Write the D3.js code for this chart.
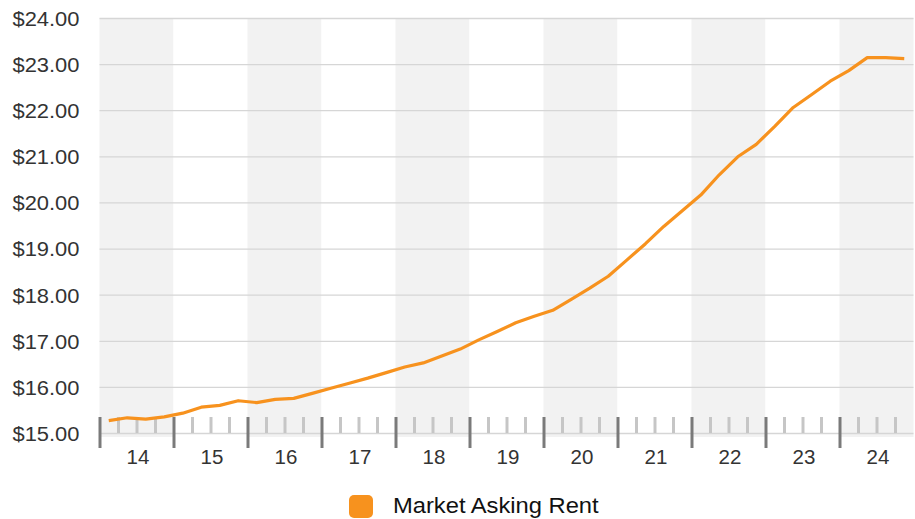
<!DOCTYPE html>
<html>
<head>
<meta charset="utf-8">
<script src="https://cdn.jsdelivr.net/npm/d3@7"></script>
<style>
  html, body { margin: 0; padding: 0; background: #fff; }
  svg { display: block; font-family: "Liberation Sans", Arial, Helvetica, sans-serif; }
</style>
</head>
<body>
<svg id="chart" width="915" height="519"></svg>
<script>
// ---- data ----
const years = ["14", "15", "16", "17", "18", "19", "20", "21", "22", "23", "24"];
const quarters = ["Q1", "Q2", "Q3", "Q4"];
const rent = [
  15.27, 15.33, 15.30, 15.35,
  15.43, 15.56, 15.60, 15.70,
  15.66, 15.73, 15.75, 15.86,
  15.97, 16.08, 16.19, 16.31,
  16.43, 16.52, 16.67, 16.82,
  17.02, 17.20, 17.39, 17.53,
  17.66, 17.90, 18.14, 18.40,
  18.75, 19.10, 19.48, 19.82,
  20.16, 20.60, 20.99, 21.26,
  21.65, 22.06, 22.34, 22.63,
  22.86, 23.14, 23.14, 23.12
];
const yTicks = [15, 16, 17, 18, 19, 20, 21, 22, 23, 24];
const seriesName = "Market Asking Rent";

// ---- layout ----
const mLeft = 99.5, mRight = 913.5, mTop = 18, mBottom = 433;
const svg = d3.select("#chart");

const xYear = d3.scaleBand().domain(years).range([mLeft, mRight]).padding(0);
const xQ = d3.scaleLinear().domain([0, years.length * quarters.length]).range([mLeft, mRight]);
const y = d3.scaleLinear().domain([15, 24]).range([mBottom, mTop]);

// bands
svg.append("g").selectAll("rect")
  .data(years)
  .join("rect")
  .attr("x", d => xYear(d))
  .attr("y", mTop)
  .attr("width", xYear.bandwidth())
  .attr("height", mBottom + 4 - mTop)
  .attr("fill", (d, i) => i % 2 === 0 ? "#f2f2f2" : "#ffffff");

// y axis with gridlines
const yAxis = d3.axisLeft(y)
  .tickValues(yTicks)
  .tickSize(-(mRight - mLeft))
  .tickPadding(0)
  .tickFormat(d => "$" + d.toFixed(2));
const gy = svg.append("g").attr("transform", `translate(${mLeft},0)`).call(yAxis);
gy.select(".domain").remove();
gy.selectAll(".tick line").attr("stroke", "#d6d6d6").attr("stroke-width", 1.3);
gy.selectAll(".tick text")
  .attr("x", 0)
  .attr("fill", "#333")
  .style("font-size", "20.5px")
  .attr("dy", "0.36em")
  .attr("transform", "translate(-20,0) scale(1.07,1)");

// minor quarter ticks
const nQ = years.length * quarters.length;
const minorVals = d3.range(0, nQ).filter(i => i % 4 !== 0);
const minorAxis = d3.axisBottom(xQ).tickValues(minorVals).tickSize(16).tickFormat("");
const gmin = svg.append("g").attr("transform", `translate(0,417)`).call(minorAxis);
gmin.select(".domain").remove();
gmin.selectAll(".tick line").attr("stroke", "#c6c6c6").attr("stroke-width", 3);

// major year ticks
const majorVals = d3.range(0, nQ, 4);
const majorAxis = d3.axisBottom(xQ).tickValues(majorVals).tickSize(31).tickFormat("");
const gmaj = svg.append("g").attr("transform", `translate(0,417)`).call(majorAxis);
gmaj.select(".domain").remove();
gmaj.selectAll(".tick line").attr("stroke", "#7a7a7a").attr("stroke-width", 3);

// year labels
const xAxis = d3.axisBottom(xYear).tickSize(0).tickPadding(0);
const gx = svg.append("g").attr("transform", `translate(0,448)`).call(xAxis);
gx.select(".domain").remove();
gx.selectAll(".tick text")
  .attr("fill", "#333")
  .style("font-size", "20.5px")
  .attr("dy", "0.8em")
  .attr("transform", "translate(1.5,0)");

// line
const line = d3.line()
  .x((d, i) => xQ(i + 0.5))
  .y(d => y(d));
svg.append("path")
  .datum(rent)
  .attr("fill", "none")
  .attr("stroke", "#f7921e")
  .attr("stroke-width", 3.2)
  .attr("stroke-linejoin", "round")
  .attr("d", line);

// legend
const lg = svg.append("g");
lg.append("rect")
  .attr("x", 349).attr("y", 495)
  .attr("width", 24).attr("height", 23)
  .attr("rx", 5)
  .attr("fill", "#f7921e");
lg.append("text")
  .attr("transform", "translate(393,513) scale(1.055,1)")
  .attr("fill", "#111")
  .style("font-size", "22.5px")
  .text(seriesName);
</script>
</body>
</html>
